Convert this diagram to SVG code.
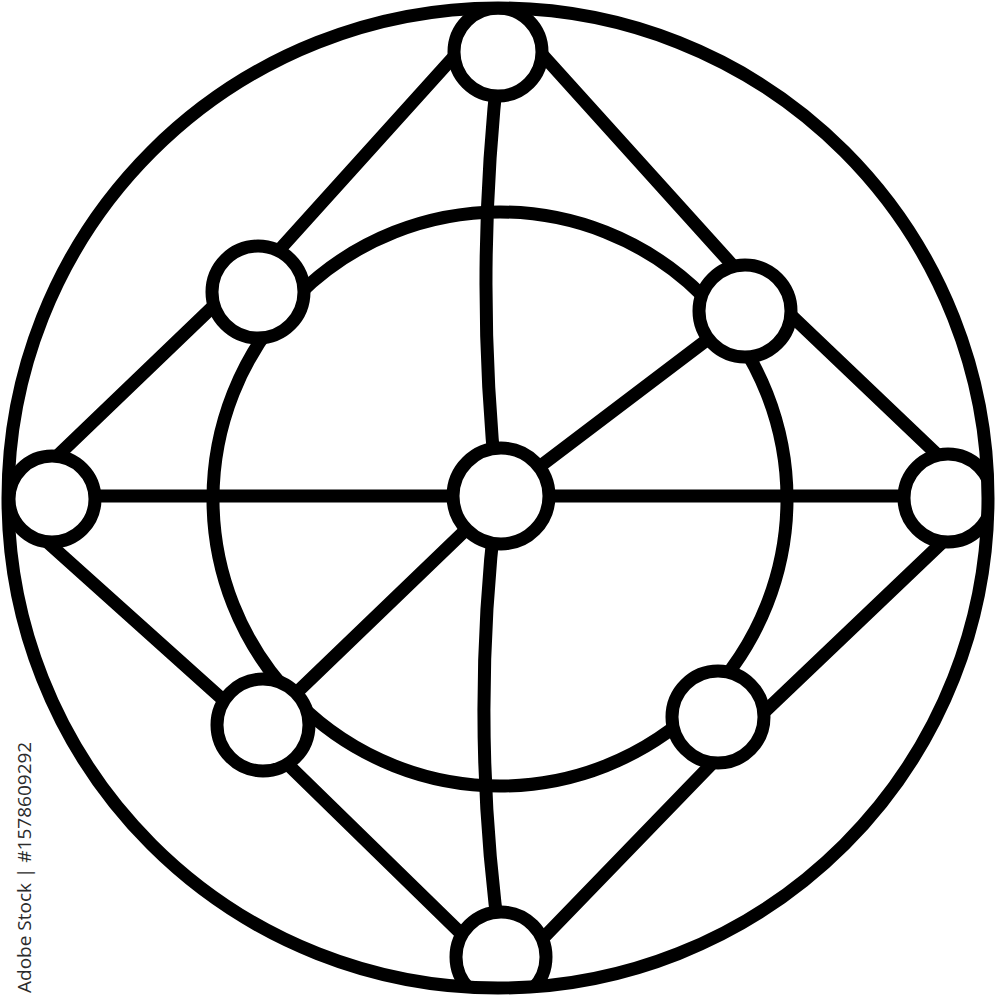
<svg xmlns="http://www.w3.org/2000/svg" width="1000" height="1000" viewBox="0 0 1000 1000">
  <style>
    .ln { fill: none; stroke: #000; stroke-width: 13; stroke-linecap: round; }
    .nd { fill: #fff; stroke: #000; stroke-width: 13; }
    .wm { font-family: "Open Sans", "Liberation Sans", sans-serif; font-size: 19px; fill: #2b2b2b; }
  </style>
  <defs>
    <clipPath id="globeClip">
      <circle cx="498" cy="498" r="496"/>
    </clipPath>
  </defs>
  <rect width="1000" height="1000" fill="#fff"/>
  <g clip-path="url(#globeClip)">
    <g id="connectors">
      <circle class="ln" cx="500" cy="499" r="287"/>
      <line class="ln" x1="458" y1="52" x2="272" y2="258"/>
      <line class="ln" x1="540" y1="52" x2="735" y2="268"/>
      <path class="ln" d="M499,60 Q474,275 497,490"/>
      <path class="ln" d="M497,500 Q469,725 501,950"/>
      <line class="ln" x1="50" y1="463" x2="225" y2="295"/>
      <line class="ln" x1="52" y1="496" x2="948" y2="496"/>
      <line class="ln" x1="45" y1="540" x2="240" y2="715"/>
      <line class="ln" x1="945" y1="462" x2="775" y2="300"/>
      <line class="ln" x1="950" y1="535" x2="735" y2="740"/>
      <line class="ln" x1="501" y1="496" x2="745" y2="311"/>
      <line class="ln" x1="501" y1="496" x2="263" y2="725"/>
      <line class="ln" x1="270" y1="747" x2="480" y2="952"/>
      <line class="ln" x1="730" y1="745" x2="520" y2="962"/>
    </g>
    <g id="node-top"><circle class="nd" cx="498" cy="52" r="44"/></g>
    <g id="node-left-top"><circle class="nd" cx="258" cy="292" r="46"/></g>
    <g id="node-right-top"><circle class="nd" cx="745" cy="311" r="46"/></g>
    <g id="node-left"><circle class="nd" cx="52" cy="499" r="43"/></g>
    <g id="node-center"><circle class="nd" cx="501" cy="496" r="48"/></g>
    <g id="node-right"><circle class="nd" cx="948" cy="498" r="44"/></g>
    <g id="node-bottom-left"><circle class="nd" cx="263" cy="725" r="46"/></g>
    <g id="node-bottom-right"><circle class="nd" cx="718" cy="717" r="46"/></g>
    <g id="node-bottom"><circle class="nd" cx="501" cy="957" r="45"/></g>
  </g>
  <g id="outer-ring"><circle class="ln" cx="498" cy="498" r="490"/></g>
  <text class="wm" transform="translate(31,993) rotate(-90)">Adobe Stock | #1578609292</text>
</svg>
